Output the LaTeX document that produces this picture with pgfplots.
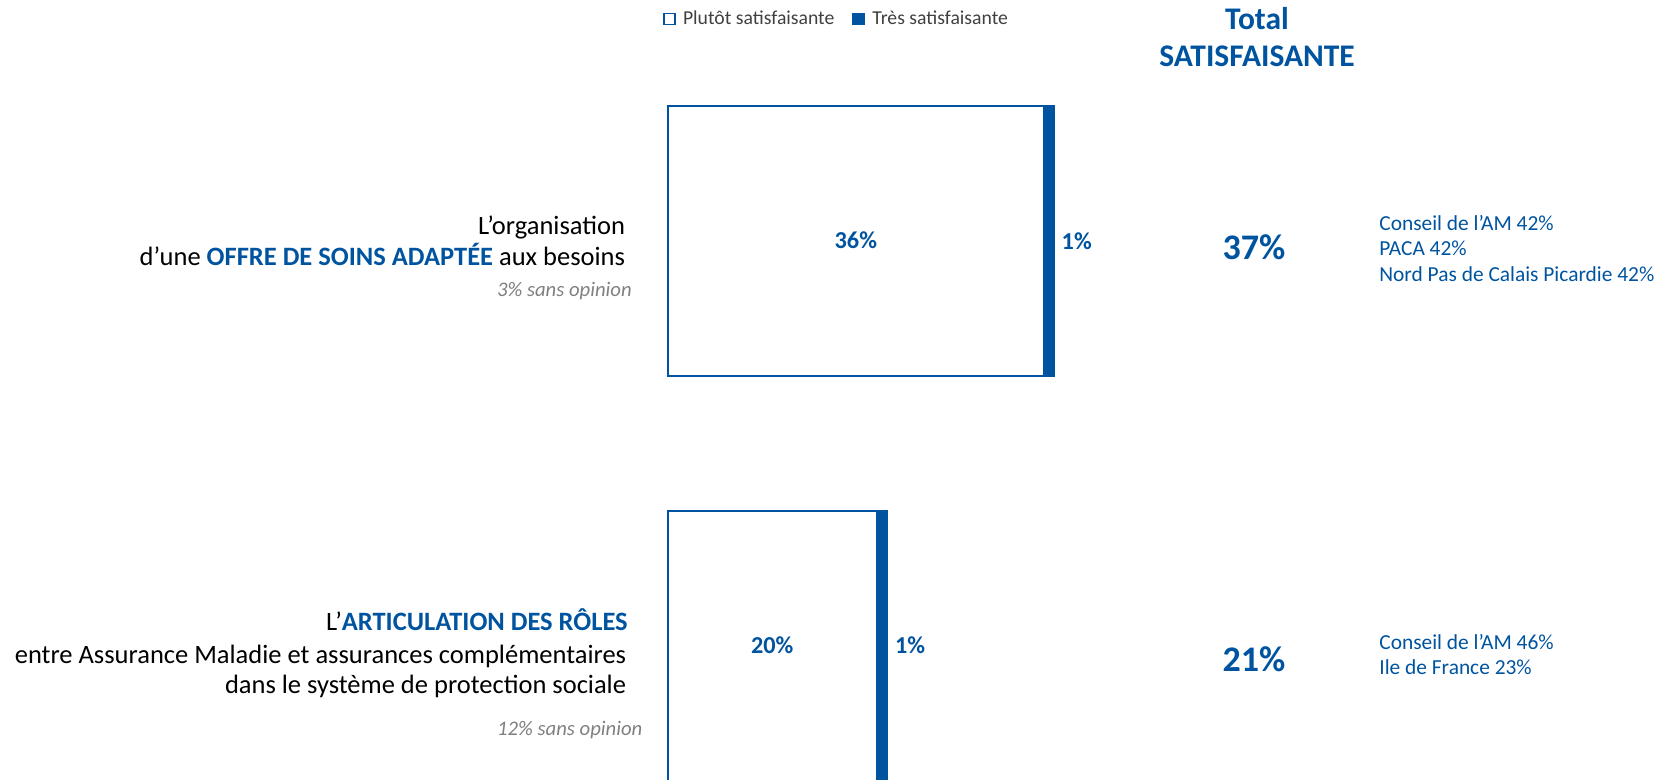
\documentclass[border=0pt]{standalone}
\usepackage{fontspec}
\setmainfont{Carlito}
\usepackage{pgfplots}
\pgfplotsset{compat=1.18}
\definecolor{bleu}{RGB}{0,84,159}
\definecolor{grisleg}{RGB}{64,64,64}
\definecolor{grisop}{RGB}{128,128,128}
\newcommand\fbody{\fontsize{13.25}{16}\selectfont}
\newcommand\ftitle{\fontsize{15.75}{18.7}\selectfont\bfseries}
\newcommand\fbig{\fontsize{18}{21}\selectfont\bfseries}
\newcommand\freg{\fontsize{10.7}{12.7}\selectfont}
\newcommand\fbar{\fontsize{12.15}{14}\selectfont\bfseries}
\newcommand\fop{\fontsize{10.35}{12}\selectfont\itshape}
\tikzset{lab/.style={inner sep=0pt, outer sep=0pt}}
\begin{document}
\begin{tikzpicture}
\begin{axis}[
  width=832pt, height=389.5pt, scale only axis,
  xmin=-63.9, xmax=95.34, ymin=0, ymax=779,
  hide axis,
  xbar stacked, bar width=270,
  clip=true,
  legend columns=2,
  legend style={at={(axis cs:-0.45,760)}, anchor=west, draw=none, fill=none,
    inner sep=0pt, outer sep=0pt, font=\fontsize{9.85}{12}\selectfont, text=grisleg,
    /tikz/every even column/.style={column sep=7pt}},
  legend image code/.code={\draw[#1, line width=0.8pt] (0pt,-2.8pt) rectangle (5.6pt,2.8pt); \path[draw=none, fill=none] (0pt,0pt) -- (7.6pt,0pt);},
]
\addplot[draw=bleu, fill=white, line width=0.9pt] coordinates {(36,538) (20,133)};
\addlegendentry{Plutôt satisfaisante}
\addplot[draw=bleu, fill=bleu, line width=0.9pt] coordinates {(1,538) (1,133)};
\addlegendentry{Très satisfaisante}

% anchors for labels inside the bars
\coordinate (l36) at (axis cs:18,530);
\coordinate (l20) at (axis cs:10,125);

\node[lab, anchor=base west, text=bleu, font=\fbar] at (axis cs:37.7,529) {1\%};
\node[lab, anchor=base west, text=bleu, font=\fbar] at (axis cs:21.75,125) {1\%};

% header
\node[lab, anchor=base, text=bleu, font=\ftitle] at (axis cs:56.39,749.7) {Total};
\node[lab, anchor=base, text=bleu, font=\ftitle] at (axis cs:56.39,712.3) {SATISFAISANTE};

% totals
\node[lab, anchor=base, text=bleu, font=\fbig] at (axis cs:56.1,519.7) {37\%};
\node[lab, anchor=base, text=bleu, font=\fbig] at (axis cs:56.1,107.3) {21\%};

% regional details
\node[lab, anchor=base west, text=bleu, font=\freg] at (axis cs:68.1,548) {Conseil de l’AM 42\%};
\node[lab, anchor=base west, text=bleu, font=\freg] at (axis cs:68.1,523.3) {PACA 42\%};
\node[lab, anchor=base west, text=bleu, font=\freg] at (axis cs:68.1,497.3) {Nord Pas de Calais Picardie 42\%};
\node[lab, anchor=base west, text=bleu, font=\freg] at (axis cs:68.1,129) {Conseil de l’AM 46\%};
\node[lab, anchor=base west, text=bleu, font=\freg] at (axis cs:68.1,104) {Ile de France 23\%};

% left labels
\node[lab, anchor=base east, font=\fbody] at (axis cs:-4.09,544.7) {L’organisation};
\node[lab, anchor=base east, font=\fbody] at (axis cs:-4.09,513.3) {d’une \textcolor{bleu}{\bfseries OFFRE DE SOINS ADAPTÉE} aux besoins};
\node[lab, anchor=base east, text=grisop, font=\fop] at (axis cs:-3.44,482) {3\% sans opinion};

\node[lab, anchor=base east, font=\fbody] at (axis cs:-3.83,148) {L’\textcolor{bleu}{\bfseries ARTICULATION DES RÔLES}};
\node[lab, anchor=base east, font=\fbody] at (axis cs:-3.99,115.7) {entre Assurance Maladie et assurances complémentaires};
\node[lab, anchor=base east, font=\fbody] at (axis cs:-3.99,85) {dans le système de protection sociale};
\node[lab, anchor=base east, text=grisop, font=\fop] at (axis cs:-2.43,44) {12\% sans opinion};
\end{axis}
\node[lab, anchor=base, text=bleu, font=\fbar] at (l36) {36\%};
\node[lab, anchor=base, text=bleu, font=\fbar] at (l20) {20\%};
\pgfresetboundingbox
\useasboundingbox (current axis.south west) rectangle (current axis.north east);
\end{tikzpicture}
\end{document}
